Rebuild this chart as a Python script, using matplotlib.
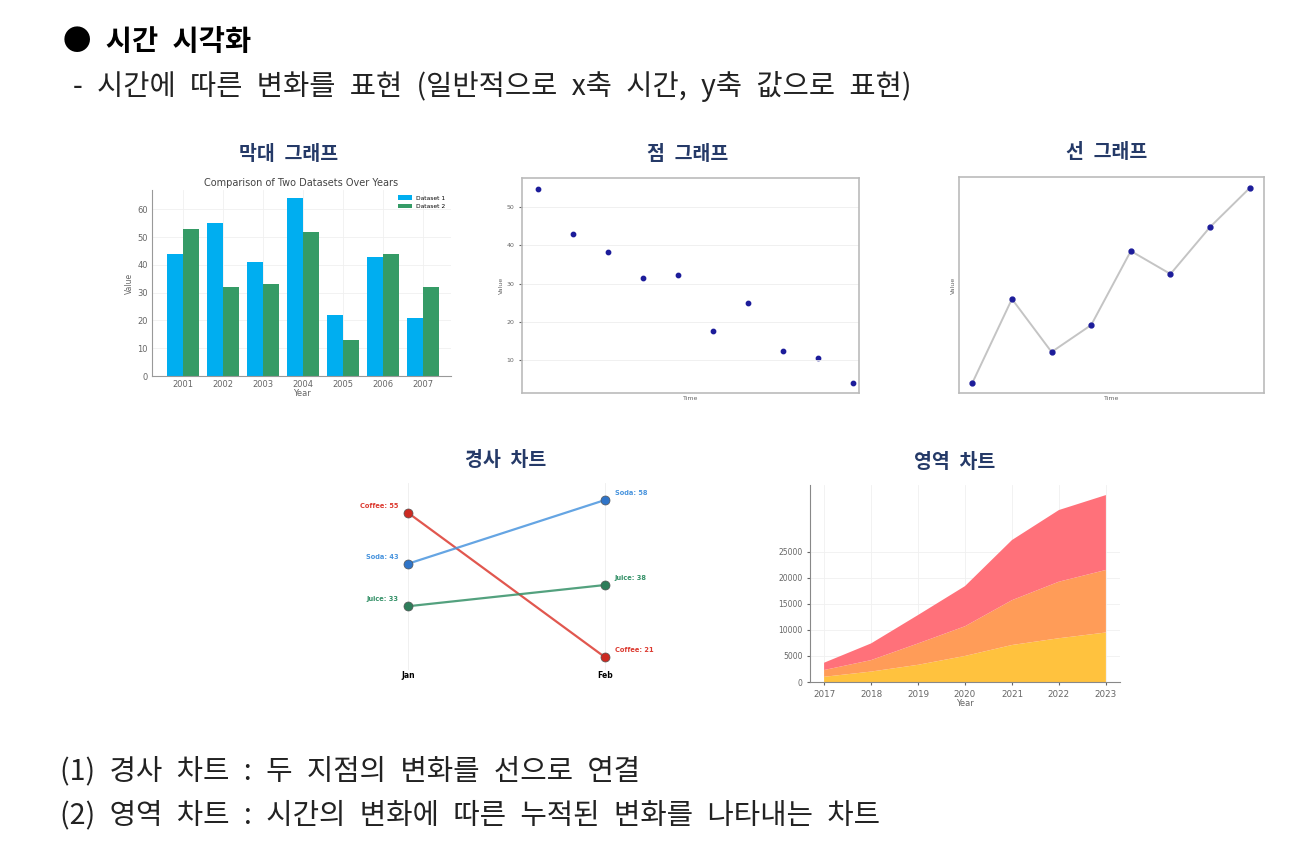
import matplotlib.pyplot as plt
import numpy as np

plt.rcParams["font.family"] = ["DejaVu Sans"]
KR = ["Noto Sans CJK KR", "DejaVu Sans"]
SP = "\u2002"  # wider word gap, like the slide font

W, H = 1297, 859

# bar chart data
years_bar = [2001, 2002, 2003, 2004, 2005, 2006, 2007]
dataset1 = [44, 55, 41, 64, 22, 43, 21]
dataset2 = [53, 32, 33, 52, 13, 44, 32]

# scatter data
scatter_t = [1, 2, 3, 4, 5, 6, 7, 8, 9, 10]
scatter_v = [54.8, 43.0, 38.3, 31.6, 32.3, 17.8, 25.1, 12.5, 10.7, 4.1]

# line data
line_t = [1, 2, 3, 4, 5, 6, 7, 8]
line_v = [5, 47, 20.5, 34, 71, 59.5, 83, 102.5]

# slope chart data
slope_periods = ["Jan", "Feb"]
slope_names = ["Coffee", "Soda", "Juice"]
slope_jan = [55, 43, 33]
slope_feb = [21, 58, 38]
slope_colors = ["#dc3a30", "#4a95de", "#359168"]
slope_marker = ["#cc2a22", "#2f74c8", "#2e7d5a"]

# area chart data
area_years = [2017, 2018, 2019, 2020, 2021, 2022, 2023]
area_a = [1000, 2000, 3300, 5000, 7100, 8400, 9500]
area_b = [1300, 2200, 4100, 5700, 8600, 10850, 12000]
area_c = [1400, 3200, 5450, 7700, 11540, 13750, 14370]


def px_axes(left, top, right, bottom):
    return fig.add_axes([left / W, 1 - bottom / H, (right - left) / W, (bottom - top) / H])


def px_text(x, y, s, **kw):
    fig.text(x / W, 1 - y / H, s.replace(" ", SP), family=KR, **kw)


fig = plt.figure(figsize=(W / 100, H / 100), dpi=100)

navy = "#253a68"

# slide text
px_text(63, 42, "● 시간 시각화", fontsize=20.5, fontweight="bold", va="center")
px_text(73, 86, "- 시간에 따른 변화를 표현 (일반적으로 x축 시간, y축 값으로 표현)",
        fontsize=20.5, va="center", color="#222222")
px_text(60, 771, "(1) 경사 차트 : 두 지점의 변화를 선으로 연결", fontsize=20.7, va="center", color="#222222")
px_text(60, 815, "(2) 영역 차트 : 시간의 변화에 따른 누적된 변화를 나타내는 차트",
        fontsize=20.7, va="center", color="#222222")

for x, y, s in [(289, 155, "막대 그래프"), (688, 155, "점 그래프"), (1107, 152, "선 그래프"),
                (506, 460, "경사 차트"), (955, 462, "영역 차트")]:
    px_text(x, y, s, fontsize=14, fontweight="bold", color=navy, ha="center", va="center")

grey = "#666666"

# --- bar chart ---
ax = px_axes(152, 190, 451, 376)
x = np.array(years_bar)
ax.bar(x - 0.2, dataset1, width=0.4, color="#00aef0", label="Dataset 1")
ax.bar(x + 0.2, dataset2, width=0.4, color="#359b66", label="Dataset 2")
ax.set_xlim(2000.225, 2007.7)
ax.set_ylim(0, 67)
ax.set_xticks(years_bar)
ax.set_yticks([0, 10, 20, 30, 40, 50, 60])
ax.tick_params(labelsize=6, colors=grey, length=0, pad=3)
ax.set_title("Comparison of Two Datasets Over Years", fontsize=7, color="#444444", pad=3)
ax.set_xlabel("Year", fontsize=6, color=grey, labelpad=0)
ax.set_ylabel("Value", fontsize=5.5, color=grey, labelpad=2)
ax.grid(color="#f0f0f0", lw=0.6)
ax.set_axisbelow(True)
for s in ["top", "right"]:
    ax.spines[s].set_visible(False)
for s in ["left", "bottom"]:
    ax.spines[s].set_color("#999999")
ax.legend(fontsize=4.3, frameon=False, loc="upper right", handlelength=2.2)

# --- scatter chart ---
ax = px_axes(522, 178, 859, 393)
ax.scatter(scatter_t, scatter_v, s=10, color="#1c1c9a")
ax.set_xlim(0.54, 10.16)
ax.set_ylim(1.5, 57.6)
ax.set_xticks([])
ax.set_yticks([10, 20, 30, 40, 50])
ax.tick_params(labelsize=4.5, colors=grey, length=2)
ax.set_xlabel("Time", fontsize=4.5, color=grey, labelpad=2)
ax.set_ylabel("Value", fontsize=4.5, color=grey, labelpad=2)
ax.grid(axis="y", color="#eeeeee", lw=0.6)
for s in ax.spines.values():
    s.set_color("#bbbbbb")
    s.set_linewidth(1.2)

# --- line chart ---
ax = px_axes(959, 177, 1264, 393)
ax.plot(line_t, line_v, color="#c4c4c4", lw=1.4, marker="o", ms=3.5,
        markerfacecolor="#1c1c9a", markeredgecolor="#1c1c9a")
ax.set_xlim(0.664, 8.36)
ax.set_ylim(0, 108)
ax.set_xticks([])
ax.set_yticks([])
ax.set_xlabel("Time", fontsize=4.5, color=grey, labelpad=2)
ax.set_ylabel("Value", fontsize=4.5, color=grey, labelpad=2)
for s in ax.spines.values():
    s.set_color("#bbbbbb")
    s.set_linewidth(1.2)

# --- slope chart ---
ax = px_axes(339, 483, 674, 670)
for name, a, b, c, mc in zip(slope_names, slope_jan, slope_feb, slope_colors, slope_marker):
    ax.plot([0, 1], [a, b], color=c, lw=1.6, alpha=0.85)
    ax.plot([0, 1], [a, b], ls="none", marker="o", ms=6.5,
            markerfacecolor=mc, markeredgecolor="#555555", markeredgewidth=0.5)
    ax.annotate(f"{name}: {a}", (0, a), xytext=(-7, 5), textcoords="offset points",
                ha="right", va="center", fontsize=4.8, fontweight="bold", color=c)
    ax.annotate(f"{name}: {b}", (1, b), xytext=(7, 5), textcoords="offset points",
                ha="left", va="center", fontsize=4.8, fontweight="bold", color=c)
ax.set_xlim(-0.35, 1.35)
ax.set_ylim(18, 62)
ax.set_xticks([0, 1])
ax.set_xticklabels(slope_periods, fontsize=5.5, fontweight="bold")
ax.tick_params(length=0, pad=1)
ax.set_yticks([])
ax.grid(axis="x", color="#eeeeee", lw=0.6)
for s in ax.spines.values():
    s.set_visible(False)

# --- area chart ---
ax = px_axes(810, 485, 1120, 682)
ax.stackplot(area_years, area_a, area_b, area_c,
             colors=["#ffc23e", "#ff9c58", "#ff717a"])
ax.set_xlim(2016.7, 2023.3)
ax.set_ylim(0, 37800)
ax.set_xticks(area_years)
ax.set_yticks([0, 5000, 10000, 15000, 20000, 25000])
ax.tick_params(axis="x", labelsize=6.3, colors=grey, length=2)
ax.tick_params(axis="y", labelsize=5.5, colors=grey, length=2)
ax.set_xlabel("Year", fontsize=6, color=grey, labelpad=0)
ax.grid(color="#f0f0f0", lw=0.6)
ax.set_axisbelow(True)
for s in ["top", "right"]:
    ax.spines[s].set_visible(False)
for s in ["left", "bottom"]:
    ax.spines[s].set_color("#888888")

fig.savefig("out.png", dpi=100)
